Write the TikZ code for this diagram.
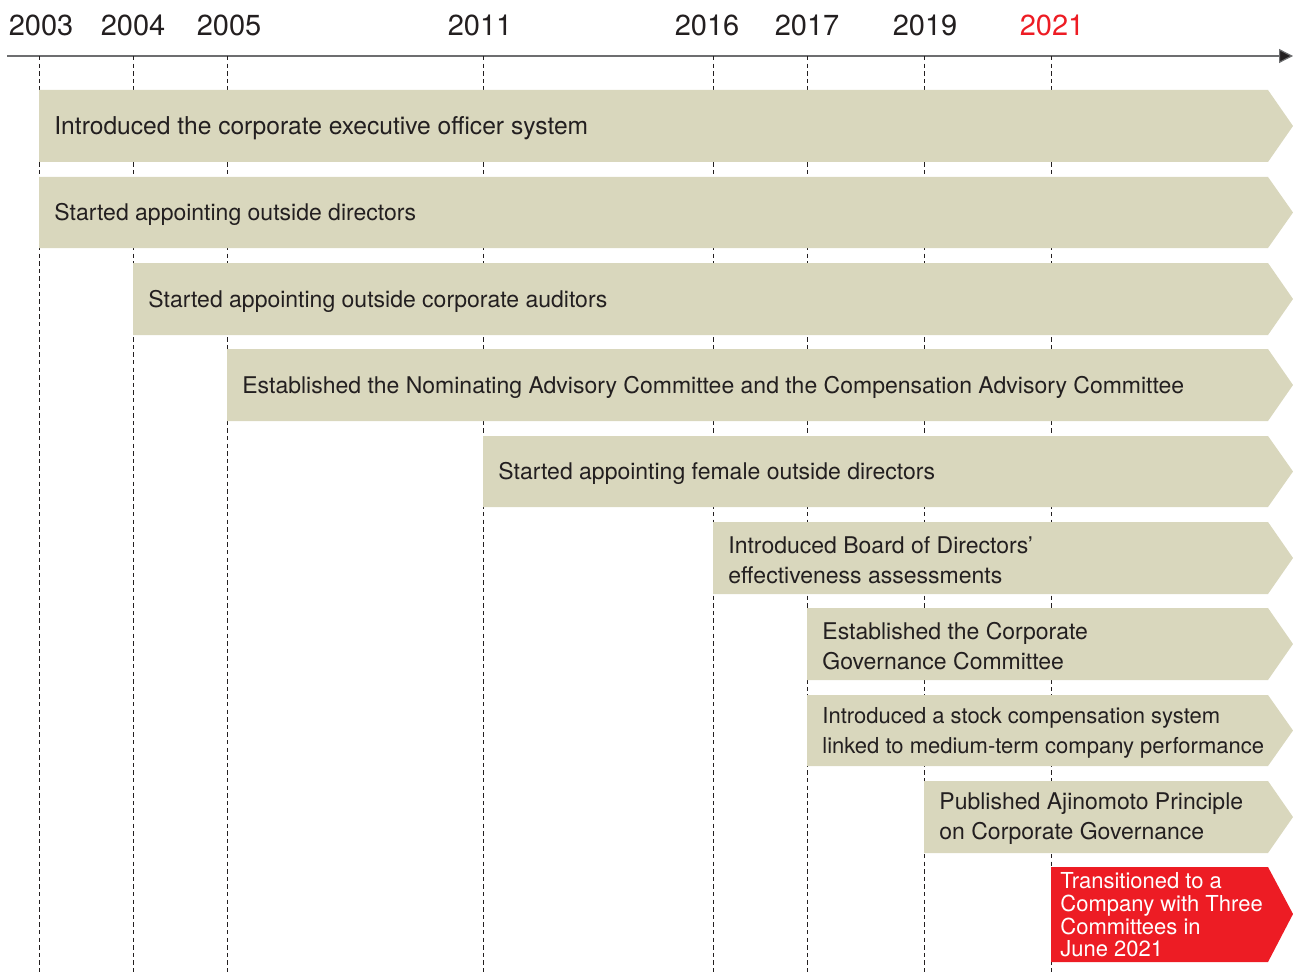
\documentclass[tikz,border=0pt]{standalone}
\usepackage{fontspec}
\setmainfont{TeX Gyre Heros}
\usetikzlibrary{arrows.meta}
\definecolor{barfill}{HTML}{D9D7BD}
\definecolor{redfill}{HTML}{ED1C24}
\definecolor{txt}{HTML}{231F20}
\definecolor{axisgray}{HTML}{6D6E70}
\tikzset{
  yearlbl/.style={font=\fontsize{14.5}{16}\selectfont, text=txt, inner sep=0pt},
  bartext/.style={font=\fontsize{11.5}{15}\selectfont, text=txt, inner sep=0pt, anchor=west, align=left},
  bigtext/.style={font=\fontsize{12.3}{15}\selectfont},
  smalltext/.style={font=\fontsize{11}{15}\selectfont},
  redtext/.style={font=\fontsize{11}{11.3}\selectfont, text=white, inner sep=0pt, anchor=west, align=left},
  yearline/.style={draw=txt, line width=0.4pt, dash pattern=on 2.2pt off 1.6pt},
  axisline/.style={draw=axisgray, line width=0.6pt, -{Triangle[length=7pt,width=7pt,fill=txt]}},
}
\newcommand\gbar[6]{%
  \fill[barfill] (#1,#2) -- (1268,#2) -- (1293,{(#2+#3)/2}) -- (1268,#3) -- (#1,#3) -- cycle;
  \node[bartext,#6] (#5) at ({#1+15},{(#2+#3)/2+2}) {#4};
}
\begin{document}
\begin{tikzpicture}[x=0.5pt,y=-0.5pt]
\useasboundingbox (0,0) rectangle (1293,973);
% year labels
\node[yearlbl] (y2003) at (41,25) {2003};
\node[yearlbl] (y2004) at (133,25) {2004};
\node[yearlbl] (y2005) at (229,25) {2005};
\node[yearlbl] (y2011) at (480,25) {2011};
\node[yearlbl] (y2016) at (707,25) {2016};
\node[yearlbl] (y2017) at (807,25) {2017};
\node[yearlbl] (y2019) at (925,25) {2019};
\node[yearlbl, text=redfill] (y2021) at (1052,25) {2021};
% axis
\coordinate (axL) at (7,56);
\coordinate (axR) at (1293,56);
\draw[axisline] (axL) -- (axR);
% dashed year lines
\foreach \n/\x in {a/39,b/133,c/227,d/483,e/713,f/807,g/924,h/1051}{
  \coordinate (t\n) at (\x,56);
  \coordinate (b\n) at (\x,973);
  \draw[yearline] (t\n) -- (b\n);
}
% bars
\gbar{39}{90}{162}{Introduced the corporate executive officer system}{r1}{bigtext}
\gbar{39}{177}{248}{Started appointing outside directors}{r2}{}
\gbar{133}{263}{335}{Started appointing outside corporate auditors}{r3}{}
\gbar{227}{349}{421}{Established the Nominating Advisory Committee and the Compensation Advisory Committee}{r4}{}
\gbar{483}{436}{507}{Started appointing female outside directors}{r5}{}
\gbar{713}{522}{594}{Introduced Board of Directors’\\effectiveness assessments}{r6}{}
\gbar{807}{608}{680}{Established the Corporate\\Governance Committee}{r7}{}
\gbar{807}{695}{766}{Introduced a stock compensation system\\linked to medium-term company performance}{r8}{smalltext}
\gbar{924}{781}{853}{Published Ajinomoto Principle\\on Corporate Governance}{r9}{}
\fill[redfill] (1051,867) -- (1268,867) -- (1293,914) -- (1268,962) -- (1051,962) -- cycle;
\node[redtext] (r10) at (1060,915) {Transitioned to a\\Company with Three\\Committees in\\June 2021};
\end{tikzpicture}
\end{document}
